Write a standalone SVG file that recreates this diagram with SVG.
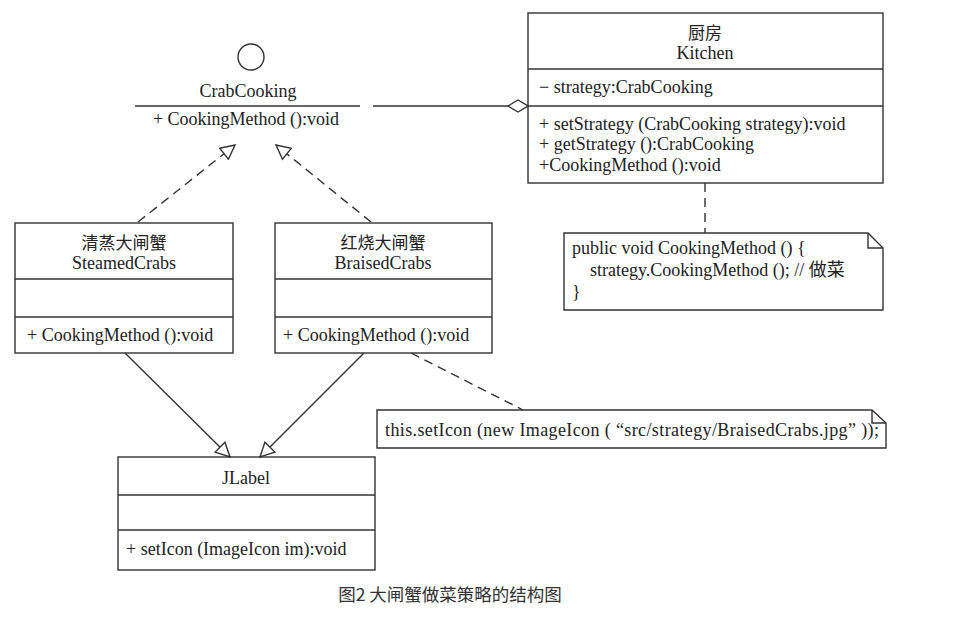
<svg xmlns="http://www.w3.org/2000/svg" width="953" height="617" viewBox="0 0 953 617">
<defs>
<style>
.box{fill:#fff;stroke:#333;stroke-width:1.4}
.ln{fill:none;stroke:#333;stroke-width:1.4}
.dash{fill:none;stroke:#333;stroke-width:1.4;stroke-dasharray:9 6}
.t{font-family:"Liberation Serif","Noto Sans CJK SC",serif;font-size:18px;fill:#222}
.cj{font-size:17px}
.c{text-anchor:middle}
.cap{font-family:"Noto Sans CJK SC","Noto Sans",sans-serif;font-size:17.5px;fill:#333;text-anchor:middle}
</style>
<marker id="tri" markerUnits="userSpaceOnUse" markerWidth="16" markerHeight="16" refX="15" refY="8" orient="auto" viewBox="0 0 16 16">
<path d="M1,1 L15,8 L1,15 z" fill="#fff" stroke="#333" stroke-width="1.4"/>
</marker>
<marker id="dia" markerUnits="userSpaceOnUse" markerWidth="22" markerHeight="14" refX="21" refY="7" orient="auto" viewBox="0 0 22 14">
<path d="M1,7 L11,1 L21,7 L11,13 z" fill="#fff" stroke="#333" stroke-width="1.4"/>
</marker>
</defs>
<rect width="953" height="617" fill="#fff"/>

<g id="CrabCooking">
<circle cx="251" cy="57" r="13" class="ln"/>
<text x="248" y="97" class="t c">CrabCooking</text>
<line x1="135" y1="106" x2="360" y2="106" class="ln"/>
<text x="246" y="125" class="t c">+ CookingMethod ():void</text>
</g>

<g id="Kitchen">
<rect x="528" y="13" width="355" height="170" class="box"/>
<line x1="528" y1="69" x2="883" y2="69" class="ln"/>
<line x1="528" y1="106" x2="883" y2="106" class="ln"/>
<text x="705" y="39" class="t cj c">厨房</text>
<text x="705" y="59" class="t c">Kitchen</text>
<text x="539" y="93" class="t">− strategy:CrabCooking</text>
<text x="539" y="130" class="t">+ setStrategy (CrabCooking strategy):void</text>
<text x="539" y="150" class="t">+ getStrategy ():CrabCooking</text>
<text x="539" y="171" class="t">+CookingMethod ():void</text>
</g>

<g id="Note1">
<path d="M564,233 L868,233 L883,248 L883,310 L564,310 z" class="box"/>
<path d="M868,233 L868,248 L883,248" class="ln"/>
<text x="572" y="254" class="t">public void CookingMethod () {</text>
<text x="590" y="276" class="t">strategy.CookingMethod ();  // 做菜</text>
<text x="572" y="298" class="t">}</text>
</g>

<g id="SteamedCrabs">
<rect x="15" y="223" width="218" height="130" class="box"/>
<line x1="15" y1="279" x2="233" y2="279" class="ln"/>
<line x1="15" y1="317" x2="233" y2="317" class="ln"/>
<text x="124" y="249" class="t cj c">清蒸大闸蟹</text>
<text x="124" y="269" class="t c">SteamedCrabs</text>
<text x="27" y="341" class="t">+ CookingMethod ():void</text>
</g>

<g id="BraisedCrabs">
<rect x="275" y="223" width="217" height="130" class="box"/>
<line x1="275" y1="279" x2="492" y2="279" class="ln"/>
<line x1="275" y1="317" x2="492" y2="317" class="ln"/>
<text x="383" y="249" class="t cj c">红烧大闸蟹</text>
<text x="383" y="269" class="t c">BraisedCrabs</text>
<text x="283" y="341" class="t">+ CookingMethod ():void</text>
</g>

<g id="Note2">
<path d="M377,410 L872,410 L886,423 L886,448 L377,448 z" class="box"/>
<path d="M872,410 L872,423 L886,423" class="ln"/>
<text x="385" y="436" class="t" textLength="494" lengthAdjust="spacing">this.setIcon (new ImageIcon ( “src/strategy/BraisedCrabs.jpg” ));</text>
</g>

<g id="JLabel">
<rect x="118" y="457" width="257" height="113" class="box"/>
<line x1="118" y1="495" x2="375" y2="495" class="ln"/>
<line x1="118" y1="530" x2="375" y2="530" class="ln"/>
<text x="246" y="484" class="t c">JLabel</text>
<text x="126" y="555" class="t">+ setIcon (ImageIcon im):void</text>
</g>

<g id="connectors">
<line x1="373" y1="106" x2="528" y2="106" class="ln" marker-end="url(#dia)"/>
<line x1="138" y1="222" x2="235" y2="145" class="dash" marker-end="url(#tri)"/>
<line x1="371" y1="222" x2="276" y2="145" class="dash" marker-end="url(#tri)"/>
<line x1="705" y1="183" x2="705" y2="233" class="dash"/>
<line x1="411" y1="353" x2="523" y2="410" class="dash"/>
<line x1="125" y1="353" x2="230" y2="457" class="ln" marker-end="url(#tri)"/>
<line x1="364" y1="353" x2="260" y2="457" class="ln" marker-end="url(#tri)"/>
</g>

<text x="450" y="601" class="cap">图2 大闸蟹做菜策略的结构图</text>
</svg>
